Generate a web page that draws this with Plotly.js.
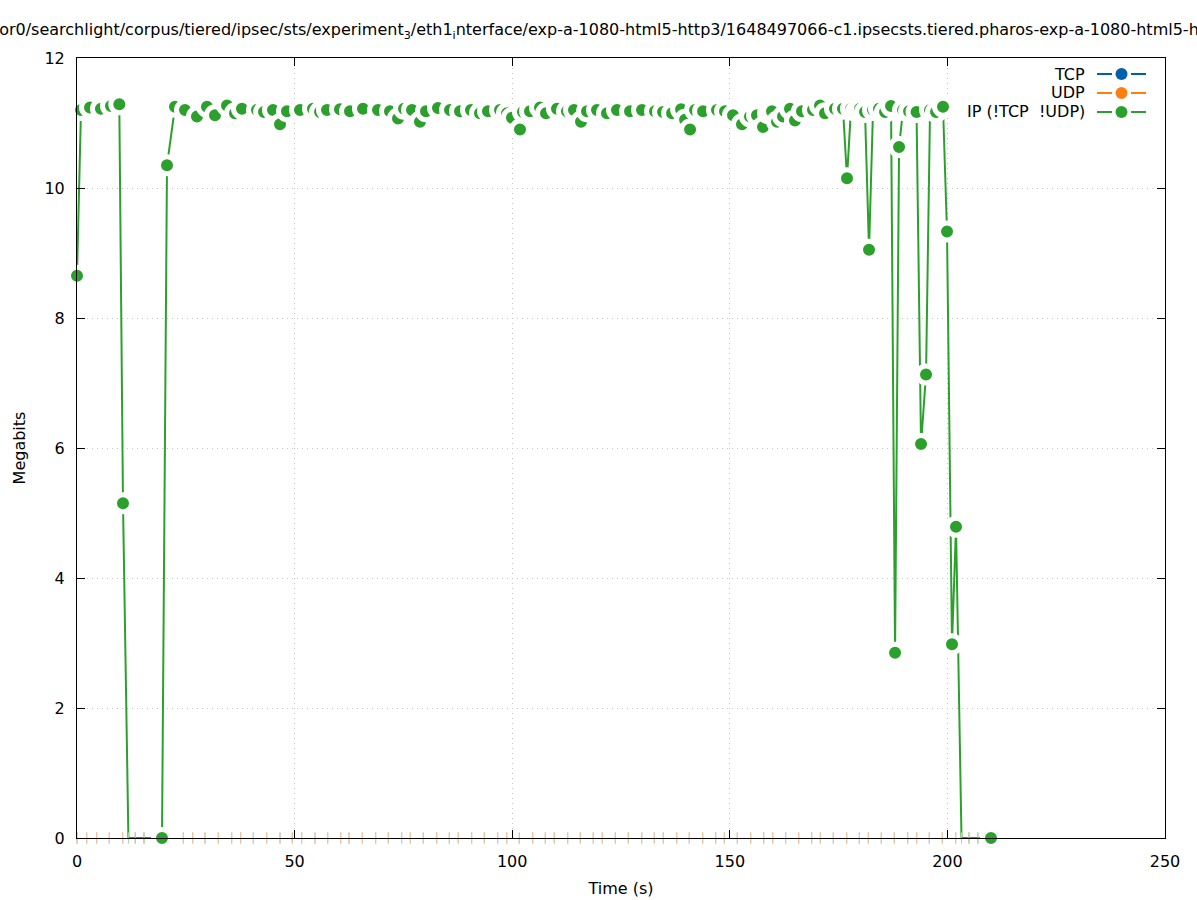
<!DOCTYPE html>
<html><head><meta charset="utf-8">
<script src="https://cdn.plot.ly/plotly-3.0.1.min.js"></script>
<style>html,body{margin:0;padding:0;background:#fff;}#chart{width:1197px;height:900px;}</style>
</head><body><div id="chart"></div>
<script>
// ---- data (seconds, megabits) ----
const ipTimes = [
  0.00, 0.92, 2.99, 5.51, 7.81, 9.72, 10.57, 11.81, 13.40, 15.40, 19.53, 20.68, 22.52,
  24.82, 27.57, 29.87, 31.71, 34.47, 36.31, 37.91, 41.36, 42.97, 45.04, 46.65, 48.25, 51.24, 54.23, 55.84, 57.45, 60.43, 62.73,
  65.72, 69.17, 71.92, 73.76, 75.14, 76.98, 78.81, 80.19, 82.95, 85.71, 88.00, 90.53, 92.60, 94.44, 97.20, 98.81, 99.95, 101.79, 102.48, 104.09,
  106.39, 107.77, 110.29, 112.59, 114.20, 115.81, 117.19, 119.49, 121.78, 124.08, 127.07,
  129.83, 132.82, 134.66, 136.73, 138.80, 139.72, 140.87, 142.02, 143.86, 147.06, 148.90, 150.74, 152.80, 154.64, 156.25, 157.63, 158.78, 159.70,
  160.85, 162.23, 163.83, 164.98, 166.59, 169.12, 170.73, 171.88, 174.17, 176.01, 176.93, 177.85, 179.00, 179.92, 181.07, 181.99, 182.91, 184.29,
  185.67, 187.05, 187.97, 188.89, 189.81, 191.19, 192.91, 193.94, 195.09, 196.01, 197.39, 198.99, 199.91, 201.06, 201.98, 203.24, 204.96, 207.03, 210.02
];
const ipMegabits = [
  8.65, 11.20, 11.24, 11.22, 11.26, 11.29, 5.15, 0, 0, 0, 0, 10.35, 11.25,
  11.20, 11.10, 11.25, 11.12, 11.27, 11.15, 11.22, 11.20, 11.17, 11.20, 10.98, 11.18, 11.20, 11.22, 11.17, 11.20, 11.21, 11.18,
  11.22, 11.20, 11.18, 11.07, 11.22, 11.20, 11.02, 11.18, 11.23, 11.20, 11.18, 11.20, 11.15, 11.18, 11.20, 11.15, 11.08, 10.90, 11.17, 11.18,
  11.24, 11.15, 11.22, 11.18, 11.20, 11.02, 11.18, 11.20, 11.15, 11.20, 11.18,
  11.20, 11.18, 11.17, 11.15, 11.21, 11.05, 10.90, 11.20, 11.18, 11.20, 11.18, 11.12, 10.98, 11.10, 11.12, 10.94, 11.15, 11.18,
  11.02, 11.10, 11.22, 11.04, 11.18, 11.20, 11.27, 11.15, 11.22, 11.22, 10.15, 11.22, 11.18, 11.22, 11.17, 9.05, 11.20, 11.22,
  11.17, 11.26, 2.85, 10.63, 11.20, 11.18, 11.17, 6.06, 7.13, 11.20, 11.17, 11.25, 9.33, 2.98, 4.79, 0, 0, 0, 0
];
const tcpUdpTimes = [
  0.00, 2.23, 4.53, 7.42, 10.50, 13.40, 15.40, 19.53, 24.43, 26.59,
  29.41, 32.47, 35.55, 37.61, 40.51, 43.59, 46.65, 49.47, 51.63, 54.69,
  57.61, 60.59, 62.50, 65.56, 68.63, 71.53, 74.61, 76.59, 79.57, 82.65,
  85.55, 87.61, 90.69, 93.59, 96.67, 98.74, 101.63, 104.71, 107.61, 109.67,
  112.75, 115.65, 118.63, 120.70, 123.69, 126.68, 129.76, 132.65, 134.72, 137.80,
  140.69, 143.77, 146.76, 148.74, 151.72, 154.80, 157.79, 159.86, 162.84, 165.83,
  168.82, 170.80, 173.78, 176.86, 179.76, 181.83, 184.81, 187.80, 190.88, 192.94,
  195.84, 198.83, 201.91, 204.96, 206.96, 210.02
];
const tcpMegabits = [
  0,0,0,0,0,0,0,0,0,0, 0,0,0,0,0,0,0,0,0,0, 0,0,0,0,0,0,0,0,0,0, 0,0,0,0,0,0,0,0,0,0,
  0,0,0,0,0,0,0,0,0,0, 0,0,0,0,0,0,0,0,0,0, 0,0,0,0,0,0,0,0,0,0, 0,0,0,0,0,0
];
const udpMegabits = [
  0,0,0,0,0,0,0,0,0,0, 0,0,0,0,0,0,0,0,0,0, 0,0,0,0,0,0,0,0,0,0, 0,0,0,0,0,0,0,0,0,0,
  0,0,0,0,0,0,0,0,0,0, 0,0,0,0,0,0,0,0,0,0, 0,0,0,0,0,0,0,0,0,0, 0,0,0,0,0,0
];
const seriesNames = ['TCP', 'UDP', 'IP (!TCP  !UDP)'];
const xTickVals = [0, 50, 100, 150, 200, 250];
const yTickVals = [0, 2, 4, 6, 8, 10, 12];
const chartTitle = '/srv/sensor0/searchlight/corpus/tiered/ipsec/sts/experiment<sub>3</sub>/eth1<sub>i</sub>nterface/exp-a-1080-html5-http3/1648497066-c1.ipsecsts.tiered.pharos-exp-a-1080-html5-http3.pcap';

// ---- styling ----
const colors = ['#0060ad', '#ff7f0e', '#2ca02c'];
const FONT = 'DejaVu Sans, sans-serif';

// IP markers: interior points of a zero run are drawn as thin ticks (as in the original)
const ipIsTick = ipMegabits.map((v, i) => v === 0 && i < ipMegabits.length - 1 && ipMegabits[i + 1] === 0);

const traces = [
  {
    x: tcpUdpTimes, y: tcpMegabits, name: seriesNames[0], type: 'scatter', mode: 'markers',
    showlegend: false, cliponaxis: false, hoverinfo: 'skip',
    marker: {symbol: 'line-ns-open', size: 8, opacity: 1, color: '#8fb4d8', line: {width: 1}}
  },
  {
    x: tcpUdpTimes, y: udpMegabits, name: seriesNames[1], type: 'scatter', mode: 'markers',
    showlegend: false, cliponaxis: false, hoverinfo: 'skip',
    marker: {symbol: 'line-ns-open', size: 8, opacity: 1, color: '#ffc48e', line: {width: 1}}
  },
  {
    x: ipTimes, y: ipMegabits, name: seriesNames[2], type: 'scatter', mode: 'lines+markers',
    showlegend: false, cliponaxis: false,
    line: {color: colors[2], width: 2},
    marker: {
      opacity: 1,
      symbol: ipIsTick.map(t => t ? 'line-ns-open' : 'circle'),
      size: ipIsTick.map(t => t ? 8 : 17),
      color: ipIsTick.map(t => t ? '#a8d8a8' : colors[2]),
      line: {color: '#ffffff', width: ipIsTick.map(t => t ? 1 : 5)}
    }
  }
];

// custom legend (text left, sample right, like gnuplot)
const plotL = 77, plotR = 1165, plotT = 58, plotB = 838;
const px2x = p => (p - plotL) / (plotR - plotL);
const px2y = p => (plotB - p) / (plotB - plotT);
const legendRowsPx = [74, 93, 112];
const annotations = [];
const shapes = [];
seriesNames.forEach((nm, i) => {
  const yy = px2y(legendRowsPx[i]);
  annotations.push({
    xref: 'paper', yref: 'paper', x: px2x(1087), y: yy, xanchor: 'right', yanchor: 'middle',
    text: nm, showarrow: false, font: {family: FONT, size: 16, color: '#000'}
  });
  shapes.push({type: 'line', xref: 'paper', yref: 'paper', x0: px2x(1097), x1: px2x(1112), y0: yy, y1: yy,
    line: {color: colors[i], width: 2}});
  shapes.push({type: 'line', xref: 'paper', yref: 'paper', x0: px2x(1131), x1: px2x(1146), y0: yy, y1: yy,
    line: {color: colors[i], width: 2}});
  shapes.push({type: 'circle', xref: 'paper', yref: 'paper', xsizemode: 'pixel', ysizemode: 'pixel',
    xanchor: px2x(1121.5), yanchor: yy, x0: -6, x1: 6, y0: -6, y1: 6,
    fillcolor: colors[i], line: {width: 0}});
});

const axisCommon = {
  showline: true, linecolor: '#000', linewidth: 1, mirror: 'ticks',
  ticks: 'inside', ticklen: 8, tickwidth: 1, tickcolor: '#000',
  showgrid: true, gridcolor: '#c4c4c4', gridwidth: 1, griddash: '1px,4px',
  zeroline: false, tickfont: {family: FONT, size: 16, color: '#000'}
};

const layout = {
  width: 1197, height: 900,
  margin: {l: plotL, r: 1197 - plotR, t: plotT, b: 900 - plotB},
  paper_bgcolor: '#fff', plot_bgcolor: '#fff',
  showlegend: false,
  title: {text: chartTitle, x: 0.5025, xref: 'container', xanchor: 'center', y: 0.967, yref: 'container', yanchor: 'middle',
    font: {family: FONT, size: 16, color: '#000'}},
  xaxis: Object.assign({}, axisCommon, {
    range: [0, 250], tickvals: xTickVals, ticktext: xTickVals.map(String), ticklabelstandoff: 9,
    title: {text: 'Time (s)', standoff: 12, font: {family: FONT, size: 16, color: '#000'}}
  }),
  yaxis: Object.assign({}, axisCommon, {
    range: [0, 12], tickvals: yTickVals, ticktext: yTickVals.map(String), ticklabelstandoff: 8,
    title: {text: 'Megabits', standoff: 14, font: {family: FONT, size: 16, color: '#000'}}
  }),
  annotations: annotations,
  shapes: shapes
};

Plotly.newPlot('chart', traces, layout, {displayModeBar: false, responsive: false});
</script>
</body></html>
